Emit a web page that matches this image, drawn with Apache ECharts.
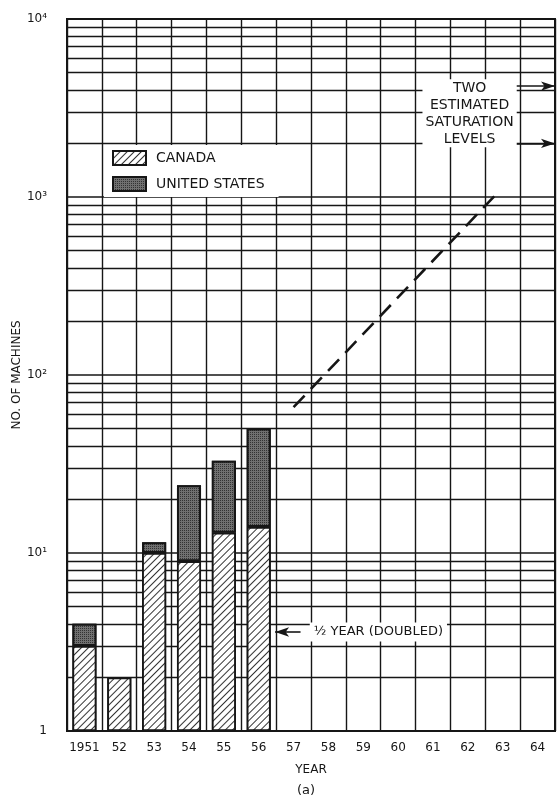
<!DOCTYPE html>
<html>
<head>
<meta charset="utf-8">
<script src="https://cdn.jsdelivr.net/npm/echarts@6/dist/echarts.min.js"></script>
<style>html,body{margin:0;padding:0;background:#fff}#c{width:559px;height:805px}</style>
</head>
<body>
<div id="c"></div>
<script>
// ---- data ----
const years = ['1951','52','53','54','55','56','57','58','59','60','61','62','63','64'];
const canada = [3, 2, 10, 9, 13, 14, null, null, null, null, null, null, null, null];
const unitedStates = [1, null, 1.5, 15, 20, 36, null, null, null, null, null, null, null, null];
const projYears = [1957, 1962.9];
const projValues = [66, 1080];
const saturationLevels = [4200, 2000];
const halfYearNoteValue = 3.6;
const yTickLabels = {1: '1', 10: '10¹', 100: '10²', 1000: '10³', 10000: '10⁴'};

// minor log gridlines (axis ticks at 2..9 of each decade)
const minorGrid = [];
for (let d = 1; d < 10000; d *= 10) {
  for (let k = 2; k <= 9; k++) minorGrid.push(k * d);
}

const FONT = 'DejaVu Sans';
const INK = '#161616';

const chart = echarts.init(document.getElementById('c'), null, {renderer: 'canvas'});
chart.setOption({
  animation: false,
  backgroundColor: '#fff',
  textStyle: {fontFamily: FONT, color: INK},
  title: {
    text: '(a)', left: 292, top: 779,
    textStyle: {fontFamily: FONT, fontWeight: 'normal', fontSize: 13, color: INK}
  },
  grid: {left: 67, right: 4, top: 19, bottom: 74, outerBoundsMode: 'none', containLabel: false,
    show: true, borderColor: INK, borderWidth: 2, backgroundColor: '#fff'},
  legend: {
    orient: 'vertical', left: 104, top: 145,
    itemWidth: 33, itemHeight: 14, itemGap: 10,
    padding: [5, 14, 5, 8],
    backgroundColor: '#fff',
    icon: 'rect',
    textStyle: {fontFamily: FONT, fontSize: 14, color: INK, padding: [0, 0, 0, 5]},
    data: ['CANADA', 'UNITED STATES']
  },
  xAxis: [
    {
      type: 'category', data: years, boundaryGap: true, gridIndex: 0,
      axisLine: {show: true, lineStyle: {color: INK, width: 2}},
      axisTick: {show: false},
      axisLabel: {interval: 0, fontFamily: FONT, fontSize: 12, color: INK, margin: 11},
      splitLine: {show: true, interval: 0, lineStyle: {color: INK, width: 1.4}},
      name: 'YEAR', nameLocation: 'middle', nameGap: 33, nameMoveOverlap: false,
      nameTextStyle: {fontFamily: FONT, fontSize: 12, color: INK}
    },
    {type: 'value', min: 1950.5, max: 1964.5, show: false, gridIndex: 0}
  ],
  yAxis: {
    type: 'log', logBase: 10, min: 1, max: 10000,
    axisLine: {show: true, lineStyle: {color: INK, width: 2}},
    axisTick: {show: false},
    axisLabel: {fontFamily: FONT, fontSize: 12, color: INK, margin: 20,
      padding: [0, 0, 7, 0],
      formatter: v => yTickLabels[Math.round(v)] || ''},
    splitLine: {show: true, lineStyle: {color: INK, width: 1.6}},
    name: 'NO. OF MACHINES', nameLocation: 'middle', nameGap: 44, nameMoveOverlap: false,
    nameTextStyle: {fontFamily: FONT, fontSize: 12, color: INK}
  },
  series: [
    {
      name: 'grid-minor', type: 'line', xAxisIndex: 1, data: [], z: 1, silent: true,
      markLine: {
        z: 1, silent: true, symbol: ['none', 'none'], label: {show: false},
        lineStyle: {color: INK, width: 1.3, type: 'solid'},
        data: minorGrid.map(v => ({yAxis: v}))
      }
    },
    {
      name: 'CANADA', type: 'bar', stack: 'total', data: canada, barWidth: '69%', z: 3,
      itemStyle: {
        color: '#ffffff', borderColor: INK, borderWidth: 1.8,
        decal: {symbol: 'rect', symbolSize: 1, dashArrayX: [1, 0], dashArrayY: [1, 3.2],
          rotation: -Math.PI / 4, color: '#333', backgroundColor: '#ffffff'}
      }
    },
    {
      name: 'UNITED STATES', type: 'bar', stack: 'total', data: unitedStates, barWidth: '69%', z: 3,
      itemStyle: {
        color: '#5c5c5c', borderColor: INK, borderWidth: 2,
        decal: {symbol: 'rect', symbolSize: 1, dashArrayX: [1, 1], dashArrayY: [1, 1],
          color: '#333', backgroundColor: '#707070'}
      }
    },
    {
      name: 'projection', type: 'line', xAxisIndex: 1, z: 4, symbol: 'none',
      data: projYears.map((x, i) => [x, projValues[i]]),
      lineStyle: {color: INK, width: 2.6, type: [16, 9]}
    },
    {
      name: 'notes', type: 'line', xAxisIndex: 1, data: [], z: 5, silent: true,
      markLine: {
        z: 6, silent: true, symbol: ['none', 'arrow'], symbolSize: [7, 14], label: {show: false},
        lineStyle: {color: INK, width: 1.6, type: 'solid'},
        data: saturationLevels.map(v => [{coord: [1963.05, v]}, {coord: [1964.5, v]}])
          .concat([[{coord: [1957.2, halfYearNoteValue]}, {coord: [1956.47, halfYearNoteValue]}]])
      },
      markPoint: {
        z: 6, silent: true, symbol: 'circle', symbolSize: 1, itemStyle: {color: 'rgba(0,0,0,0)'},
        data: [
          {coord: [1962.05, 2950], label: {show: true, position: 'inside',
            formatter: 'TWO\nESTIMATED\nSATURATION\nLEVELS', align: 'center',
            fontFamily: FONT, fontSize: 14, lineHeight: 17, color: INK,
            backgroundColor: '#fff', padding: [0, 3]}},
          {coord: [1957.45, halfYearNoteValue], label: {show: true, position: 'right', distance: 0,
            formatter: '½ YEAR (DOUBLED)',
            fontFamily: FONT, fontSize: 13, color: INK,
            backgroundColor: '#fff', padding: [3, 4]}}
        ]
      }
    }
  ]
});
</script>
</body>
</html>
